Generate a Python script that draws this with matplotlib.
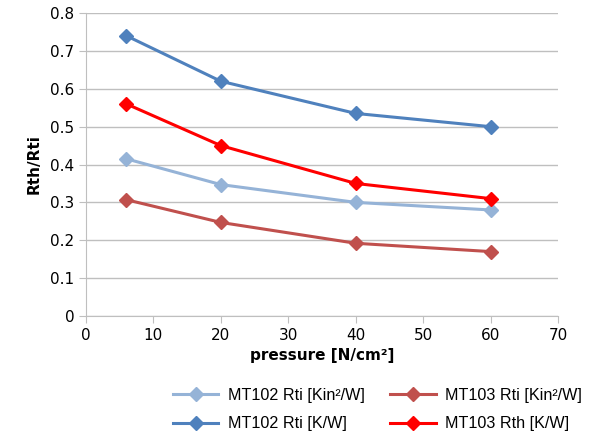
import matplotlib
matplotlib.use('Agg')
import matplotlib.pyplot as plt

pressure = [6, 20, 40, 60]
mt102_rti_kin2 = [0.415, 0.347, 0.300, 0.280]
mt103_rti_kin2 = [0.307, 0.247, 0.192, 0.170]
mt102_rti_kw = [0.740, 0.620, 0.535, 0.500]
mt103_rth_kw = [0.560, 0.450, 0.350, 0.310]

labels = ['MT102 Rti [Kin²/W]', 'MT103 Rti [Kin²/W]',
          'MT102 Rti [K/W]', 'MT103 Rth [K/W]']

fig = plt.figure(figsize=(5.93, 4.37), dpi=100)
ax = fig.add_axes([0.145, 0.277, 0.796, 0.693])

l1, = ax.plot(pressure, mt102_rti_kin2, color='#95B3D7', marker='D', markersize=7, lw=2.2)
l2, = ax.plot(pressure, mt103_rti_kin2, color='#C0504D', marker='D', markersize=7, lw=2.2)
l3, = ax.plot(pressure, mt102_rti_kw, color='#4F81BD', marker='D', markersize=7, lw=2.2)
l4, = ax.plot(pressure, mt103_rth_kw, color='#FF0000', marker='D', markersize=7, lw=2.2)

ax.set_xlim(0, 70)
ax.set_ylim(0, 0.8)
ax.set_xticks(range(0, 71, 10))
ax.set_yticks([i / 10 for i in range(9)])
ax.set_yticklabels(['0'] + ['%.1f' % (i / 10) for i in range(1, 9)])
ax.yaxis.grid(True, color='#BFBFBF', lw=1)
ax.set_axisbelow(True)
for s in ['top', 'right']:
    ax.spines[s].set_visible(False)
for s in ['left', 'bottom']:
    ax.spines[s].set_color('#BFBFBF')
ax.tick_params(colors='#BFBFBF', labelcolor='black', labelsize=11, length=5)
ax.set_xlabel('pressure [N/cm²]', fontsize=11, fontweight='bold', labelpad=4)
ax.set_ylabel('Rth/Rti', fontsize=11, fontweight='bold', labelpad=6)

# legend below the plot, two columns
fig.legend([l1, l3, l2, l4], [labels[0], labels[2], labels[1], labels[3]],
           ncol=2, loc='center left', bbox_to_anchor=(173 / 593, 27.5 / 437),
           frameon=False, borderpad=0, borderaxespad=0,
           prop={'family': 'Liberation Sans', 'size': 11.6},
           handlelength=2.8, handletextpad=0.6, columnspacing=1.6,
           labelspacing=0.85)

fig.savefig('out.png', dpi=100)
